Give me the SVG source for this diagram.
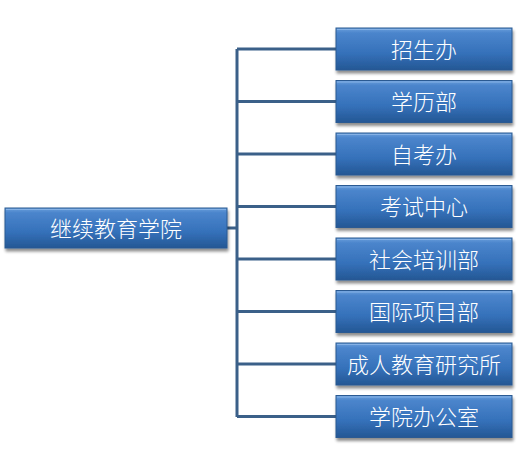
<svg xmlns="http://www.w3.org/2000/svg" width="530" height="456" viewBox="0 0 530 456">
<defs>
<linearGradient id="g" x1="0" y1="0" x2="0" y2="1">
<stop offset="0" stop-color="#6a9fdc"/>
<stop offset="0.12" stop-color="#4b85cc"/>
<stop offset="0.6" stop-color="#3571ba"/>
<stop offset="1" stop-color="#245794"/>
</linearGradient>
<filter id="sh" x="-10%" y="-20%" width="120%" height="160%">
<feGaussianBlur in="SourceAlpha" stdDeviation="1.5"/>
<feOffset dx="1" dy="3"/>
<feComponentTransfer><feFuncA type="linear" slope="0.45"/></feComponentTransfer>
<feMerge><feMergeNode/><feMergeNode in="SourceGraphic"/></feMerge>
</filter>
</defs>
<style>
.box{fill:url(#g);stroke:#2a5a92;stroke-width:1;filter:url(#sh)}
.hl{fill:none;stroke:#8fb8e8;stroke-width:1;opacity:0.8}
.t{font-family:"Noto Sans CJK SC",sans-serif;font-weight:300;fill:#ffffff;font-size:22px;text-anchor:middle;dominant-baseline:central}
.c{stroke:#3b6089;stroke-width:3;fill:none}
</style>
<g id="connectors">
<path class="c" d="M227 228 H237 M237 49 V417 M237 49 H336 M237 101.5 H336 M237 154 H336 M237 206.5 H336 M237 259 H336 M237 311.5 H336 M237 364 H336 M237 416.5 H336"/>
</g>
<g id="root"><rect class="box" x="5" y="208" width="222" height="40"/><path class="hl" d="M6 209.5 H226"/><text class="t" x="116" y="226.5">继续教育学院</text></g>
<g id="n1"><rect class="box" x="336" y="28" width="176" height="42"/><path class="hl" d="M337 29.5 H511"/><text class="t" x="424" y="47.5">招生办</text></g>
<g id="n2"><rect class="box" x="336" y="80.5" width="176" height="42"/><path class="hl" d="M337 82 H511"/><text class="t" x="424" y="100">学历部</text></g>
<g id="n3"><rect class="box" x="336" y="133" width="176" height="42"/><path class="hl" d="M337 134.5 H511"/><text class="t" x="424" y="152.5">自考办</text></g>
<g id="n4"><rect class="box" x="336" y="185.5" width="176" height="42"/><path class="hl" d="M337 187 H511"/><text class="t" x="424" y="205">考试中心</text></g>
<g id="n5"><rect class="box" x="336" y="238" width="176" height="42"/><path class="hl" d="M337 239.5 H511"/><text class="t" x="424" y="257.5">社会培训部</text></g>
<g id="n6"><rect class="box" x="336" y="290.5" width="176" height="42"/><path class="hl" d="M337 292 H511"/><text class="t" x="424" y="310">国际项目部</text></g>
<g id="n7"><rect class="box" x="336" y="343" width="176" height="42"/><path class="hl" d="M337 344.5 H511"/><text class="t" x="424" y="362.5">成人教育研究所</text></g>
<g id="n8"><rect class="box" x="336" y="395.5" width="176" height="42"/><path class="hl" d="M337 397 H511"/><text class="t" x="424" y="415">学院办公室</text></g>
</svg>
